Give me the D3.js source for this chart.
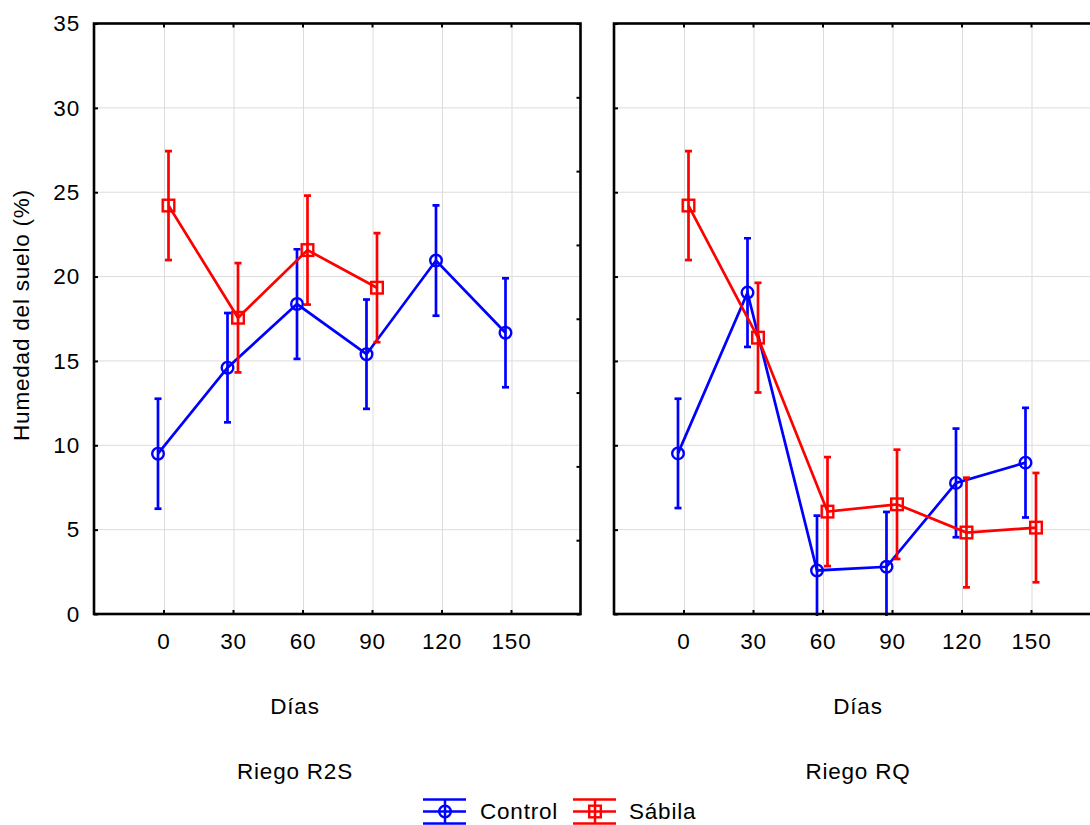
<!DOCTYPE html>
<html>
<head>
<meta charset="utf-8">
<script src="https://cdn.jsdelivr.net/npm/d3@7"></script>
<style>
  body { margin: 0; background: #fff; }
  text { font-family: "Liberation Sans", Arial, sans-serif; font-size: 22.5px; letter-spacing: 0.8px; fill: #000; }
</style>
</head>
<body>
<script>
// Días de muestreo (categorías del eje X)
const dias = ["0", "30", "60", "90", "120", "150"];
const yTicks = [0, 5, 10, 15, 20, 25, 30, 35];

// Riego R2S: medias y semiamplitud de la barra de error
const r2sControl    = [9.5, 14.6, 18.37, 15.4, 20.95, 16.67];
const r2sControlErr = [3.26, 3.24, 3.25, 3.24, 3.27, 3.23];
const r2sSabila     = [24.21, 17.56, 21.57, 19.34];
const r2sSabilaErr  = [3.23, 3.24, 3.23, 3.23];

// Riego RQ
const rqControl     = [9.52, 19.05, 2.58, 2.8, 7.77, 8.97];
const rqControlErr  = [3.24, 3.22, 3.25, 3.25, 3.22, 3.25];
const rqSabila      = [24.21, 16.38, 6.07, 6.5, 4.83, 5.12];
const rqSabilaErr   = [3.23, 3.25, 3.23, 3.24, 3.25, 3.24];

const W = 1090, H = 825;
const plotTop = 23.5, plotBottom = 614, panelW = 486.5;
const blue = "#0000ff", red = "#ff0000";

const svg = d3.select("body").append("svg").attr("width", W).attr("height", H);

const y = d3.scaleLinear().domain([0, 35]).range([plotBottom, plotTop]);

svg.append("defs").append("clipPath").attr("id", "plotclip")
  .append("rect").attr("x", 0).attr("y", plotTop).attr("width", W).attr("height", plotBottom - plotTop + 2);

const panels = [
  { title: "Riego R2S", x0: 94, labelX: 295, first: true,
    series: [
      { name: "Control", color: blue, shape: "circle", values: r2sControl, err: r2sControlErr, dx: -5.5 },
      { name: "Sábila", color: red, shape: "square", values: r2sSabila, err: r2sSabilaErr, dx: 5 }
    ] },
  { title: "Riego RQ", x0: 614, labelX: 858, first: false,
    series: [
      { name: "Control", color: blue, shape: "circle", values: rqControl, err: rqControlErr, dx: -5.5 },
      { name: "Sábila", color: red, shape: "square", values: rqSabila, err: rqSabilaErr, dx: 5 }
    ] }
];

function drawMarker(g, shape, cx, cy, color) {
  if (shape === "circle") {
    g.append("circle").attr("cx", cx).attr("cy", cy).attr("r", 5.8)
      .attr("fill", "none").attr("stroke", color).attr("stroke-width", 2.4);
  } else {
    g.append("rect").attr("x", cx - 5.8).attr("y", cy - 5.8).attr("width", 11.6).attr("height", 11.6)
      .attr("fill", "none").attr("stroke", color).attr("stroke-width", 2.4);
  }
}

panels.forEach(p => {
  const x = d3.scaleLinear().domain([-1, 6]).range([p.x0, p.x0 + panelW]);
  const xPos = i => x(i);
  const g = svg.append("g");

  // rejilla
  const grid = g.append("g").attr("stroke", "#dcdcdc").attr("stroke-width", 1);
  yTicks.slice(1, -1).forEach(t => {
    grid.append("line").attr("x1", p.x0).attr("x2", p.x0 + panelW).attr("y1", y(t)).attr("y2", y(t));
  });
  dias.forEach((d, i) => {
    grid.append("line").attr("x1", xPos(i) + 1).attr("x2", xPos(i) + 1).attr("y1", plotTop).attr("y2", plotBottom);
  });

  // series
  const data = g.append("g").attr("clip-path", "url(#plotclip)");
  p.series.forEach(s => {
    const pts = s.values.map((v, i) => [xPos(i) + s.dx, y(v)]);
    data.append("path").attr("d", d3.line()(pts))
      .attr("fill", "none").attr("stroke", s.color).attr("stroke-width", 2.7);
    s.values.forEach((v, i) => {
      const cx = xPos(i) + s.dx;
      const hi = y(v + s.err[i]), lo = y(v - s.err[i]);
      const eb = data.append("g").attr("stroke", s.color).attr("stroke-width", 2.7);
      eb.append("line").attr("x1", cx).attr("x2", cx).attr("y1", hi).attr("y2", lo);
      eb.append("line").attr("x1", cx - 3.5).attr("x2", cx + 3.5).attr("y1", hi).attr("y2", hi);
      if (v - s.err[i] >= 0)
        eb.append("line").attr("x1", cx - 3.5).attr("x2", cx + 3.5).attr("y1", lo).attr("y2", lo);
    });
    s.values.forEach((v, i) => drawMarker(data, s.shape, xPos(i) + s.dx, y(v), s.color));
  });

  // ejes con marcas hacia adentro
  const styleAxis = a => {
    a.select(".domain").remove();
    a.selectAll(".tick line").attr("stroke", "#000").attr("stroke-width", 2);
    a.selectAll("text").style("font-size", "22.5px").attr("fill", "#000");
  };

  const leftAxis = d3.axisLeft(y).tickValues(yTicks).tickSize(-4).tickPadding(14);
  if (!p.first) leftAxis.tickFormat("");
  svg.append("g").attr("transform", `translate(${p.x0},0)`).call(leftAxis).call(styleAxis);

  if (p.first) {
    const rightTicks = d3.range(0, 9).map(k => k * 35 / 8);
    svg.append("g").attr("transform", `translate(${p.x0 + panelW},0)`)
      .call(d3.axisRight(y).tickValues(rightTicks).tickSize(-4).tickFormat("")).call(styleAxis);
  }

  const idx = d3.range(dias.length);
  svg.append("g").attr("transform", `translate(0,${plotBottom})`)
    .call(d3.axisBottom(x).tickValues(idx).tickFormat(i => dias[i]).tickSize(-4).tickPadding(19.5))
    .call(styleAxis);
  svg.append("g").attr("transform", `translate(0,${plotTop})`)
    .call(d3.axisTop(x).tickValues(idx).tickFormat("").tickSize(-4))
    .call(styleAxis);

  // marco del panel
  svg.append("rect").attr("x", p.x0).attr("y", plotTop).attr("width", panelW).attr("height", plotBottom - plotTop)
    .attr("fill", "none").attr("stroke", "#000").attr("stroke-width", 2.6);

  svg.append("text").attr("x", p.labelX).attr("y", 714).attr("text-anchor", "middle").text("Días");
  svg.append("text").attr("x", p.labelX).attr("y", 779).attr("text-anchor", "middle").text(p.title);
});

// título del eje Y
svg.append("text")
  .attr("transform", "translate(29,315) rotate(-90)")
  .attr("text-anchor", "middle")
  .text("Humedad del suelo (%)");

// leyenda
const legendItems = [
  { name: "Control", color: blue, shape: "circle", x: 423, tx: 480 },
  { name: "Sábila", color: red, shape: "square", x: 573, tx: 629 }
];
legendItems.forEach(it => {
  const lg = svg.append("g").attr("stroke", it.color).attr("stroke-width", 2.5);
  [799.5, 811.5, 823.5].forEach(yy => {
    lg.append("line").attr("x1", it.x).attr("x2", it.x + 43).attr("y1", yy).attr("y2", yy);
  });
  const cx = it.x + 22;
  lg.append("line").attr("x1", cx).attr("x2", cx).attr("y1", 799.5).attr("y2", 823.5);
  drawMarker(svg, it.shape, cx, 811.5, it.color);
  svg.append("text").attr("x", it.tx).attr("y", 819).text(it.name);
});
</script>
</body>
</html>
